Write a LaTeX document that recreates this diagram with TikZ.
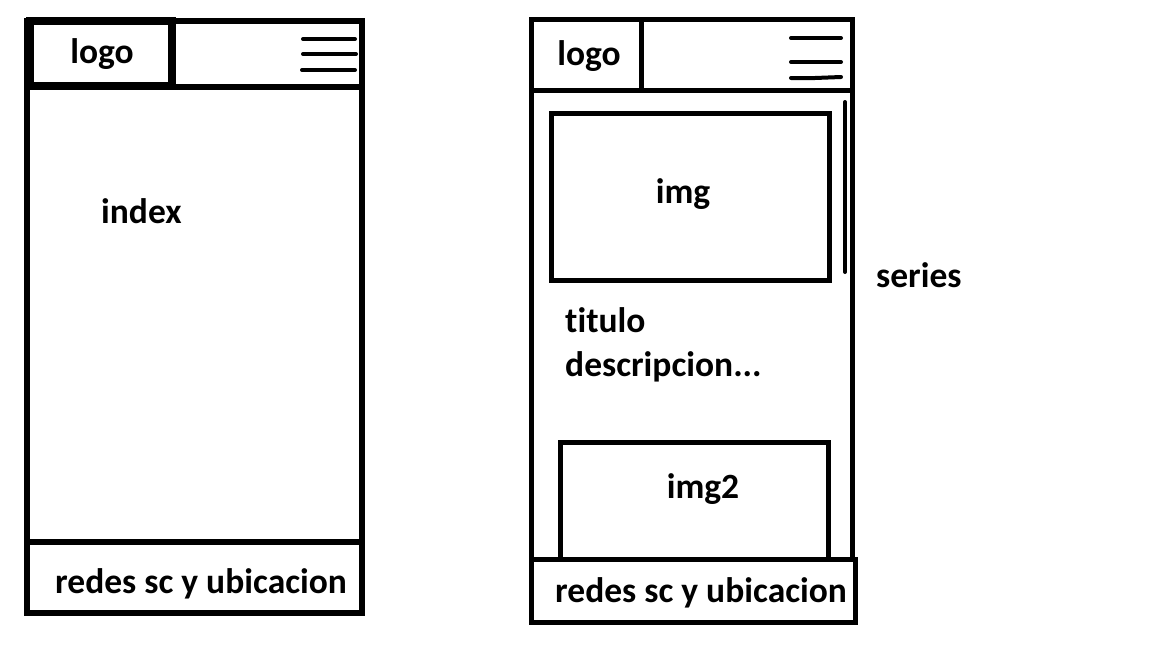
\documentclass[tikz,border=0pt]{standalone}
\usepackage{fontspec}
\setmainfont[Ligatures=NoCommon]{Carlito}
\begin{document}
\begin{tikzpicture}[x=1pt,y=-1pt,
  frame/.style={line width=5.5pt},
  thinframe/.style={line width=5pt},
  burger/.style={line width=4pt,line cap=round},
  label/.style={font=\fontsize{35.5}{40}\selectfont\bfseries,inner sep=0pt}]
\useasboundingbox[fill=white] (0,0) rectangle (1152,648);

% ---- first screen: index ----
\draw[frame] (27,21) rectangle (362,613);
\draw[frame] (27,87) -- (362,87);
\draw[line width=8pt] (30,21) rectangle (172,86);
\draw[frame] (27,542) -- (362,542);
\draw[burger] (303,39) -- (355,39);
\draw[burger] (303,54) -- (356,54);
\draw[burger] (302,70) -- (355,70);
\node[label,anchor=base] (logoA) at (102,63) {logo};
\node[label,anchor=base west] (indexA) at (101,223) {index};
\node[label,anchor=base west] (footA) at (55,593) {redes sc y ubicacion};

% ---- second screen: series ----
\draw[thinframe] (531,559) -- (531,19) -- (852,19) -- (852,559);
\draw[thinframe] (531,90) -- (852,90);
\draw[thinframe] (641,19) -- (641,90);
\draw[burger] (791,38) -- (841,38);
\draw[burger] (791,62) -- (841,62);
\draw[burger] (791,78) -- (815,78) -- (841,77);
\draw[burger] (845,102) -- (845,272);
\draw[thinframe] (551,113) rectangle (829,280);
\draw[thinframe] (560,559) -- (560,442) -- (828,442) -- (828,559);
\draw[thinframe] (531,559) rectangle (855,622);
\node[label,anchor=base] (logoB) at (589,65) {logo};
\node[label,anchor=base] (imgB) at (683,203) {img};
\node[label,anchor=base west] (tituloB) at (565,332) {titulo};
\node[label,anchor=base west] (descB) at (565,376) {descripcion...};
\node[label,anchor=base] (img2B) at (703,498) {img2};
\node[label,anchor=base west] (footB) at (555,602) {redes sc y ubicacion};
\node[label,anchor=base west] (seriesB) at (876,287) {series};
\end{tikzpicture}
\end{document}
